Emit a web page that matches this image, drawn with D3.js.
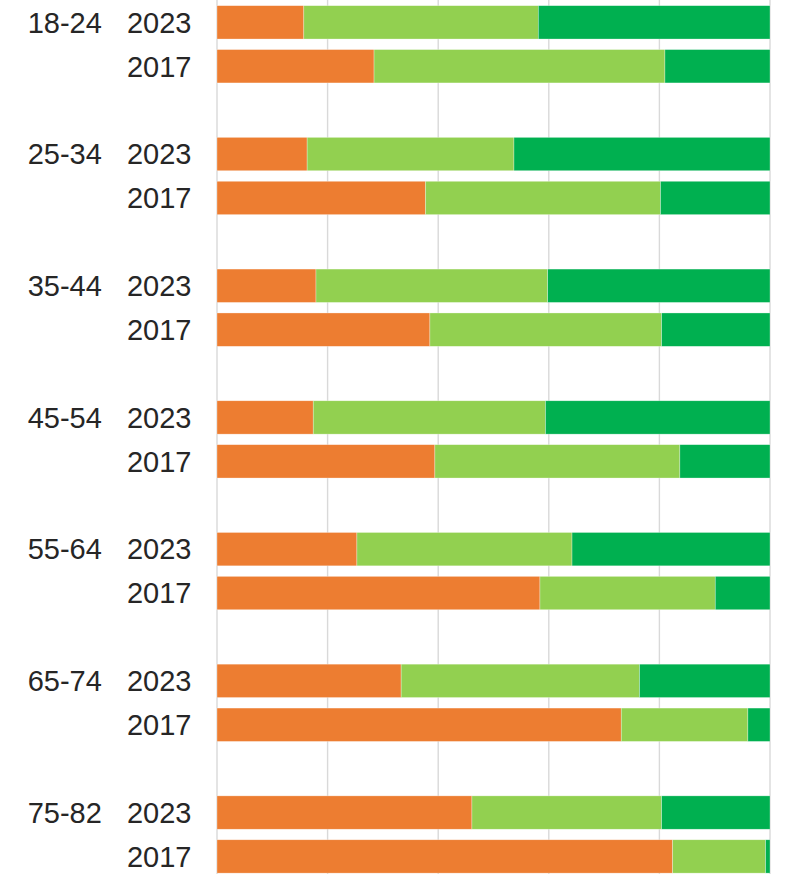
<!DOCTYPE html>
<html>
<head>
<meta charset="utf-8">
<script src="https://cdn.jsdelivr.net/npm/d3@7"></script>
<style>
  html, body { margin: 0; padding: 0; background: #fff; overflow: hidden; }
  svg { display: block; }
</style>
</head>
<body>
<svg id="chart" width="797" height="874"></svg>
<script>
// Data (percent shares)
const ageGroups = ["18-24", "25-34", "35-44", "45-54", "55-64", "65-74", "75-82"];
const years = ["2023", "2017"];
const seriesNames = ["Low", "Medium", "High"];
const colors = ["#ED7D31", "#92D050", "#00B050"];

const low2023  = [15.7, 16.3, 17.9, 17.4, 25.3, 33.3, 46.1];
const mid2023  = [42.4, 37.4, 41.9, 42.0, 38.9, 43.1, 34.3];
const high2023 = [41.9, 46.3, 40.2, 40.6, 35.8, 23.6, 19.6];

const low2017  = [28.4, 37.7, 38.5, 39.4, 58.4, 73.1, 82.4];
const mid2017  = [52.6, 42.5, 41.9, 44.3, 31.7, 22.9, 16.8];
const high2017 = [19.0, 19.8, 19.6, 16.3,  9.9,  4.0,  0.8];

const xTicks = [0, 20, 40, 60, 80, 100];

// Build rows: each group -> 2023, 2017, blank
const rows = [];
ageGroups.forEach((g, i) => {
  rows.push({ key: g + "|2023", group: g, year: "2023", values: [low2023[i], mid2023[i], high2023[i]] });
  rows.push({ key: g + "|2017", group: g, year: "2017", values: [low2017[i], mid2017[i], high2017[i]] });
  rows.push({ key: g + "|blank", group: g, year: null, values: null });
});

const svg = d3.select("#chart");
const W = 797, H = 874;
const x = d3.scaleLinear().domain([0, 100]).range([217, 770]);
const y = d3.scaleBand()
  .domain(rows.map(r => r.key))
  .range([0.4, 0.4 + rows.length * 43.9])
  .paddingInner(0.24)
  .paddingOuter(0.12);

// Gridlines
svg.append("g").selectAll("line")
  .data(xTicks)
  .join("line")
  .attr("x1", d => x(d)).attr("x2", d => x(d))
  .attr("y1", 0).attr("y2", H)
  .attr("stroke", "#d9d9d9")
  .attr("stroke-width", 1.4);

// Stacked bars
const dataRows = rows.filter(r => r.values);
const stackData = dataRows.map(r => {
  let acc = 0;
  return r.values.map((v, k) => {
    const seg = { key: r.key, k, x0: acc, x1: acc + v };
    acc += v;
    return seg;
  });
}).flat();

svg.append("g").selectAll("rect")
  .data(stackData)
  .join("rect")
  .attr("x", d => x(d.x0))
  .attr("width", d => Math.max(0, x(d.x1) - x(d.x0)))
  .attr("y", d => y(d.key))
  .attr("height", y.bandwidth())
  .attr("fill", d => colors[d.k])
  .attr("stroke", "#ffffff")
  .attr("stroke-width", 0.6)
  .attr("stroke-opacity", 0.5);

// Labels
const font = "'Liberation Sans', Arial, sans-serif";
svg.append("g").selectAll("text.year")
  .data(dataRows)
  .join("text")
  .attr("class", "year")
  .attr("x", 191.5)
  .attr("y", d => y(d.key) + y.bandwidth() / 2)
  .attr("dy", "0.355em")
  .attr("text-anchor", "end")
  .attr("font-family", font)
  .attr("font-size", 29)
  .attr("fill", "#262626")
  .text(d => d.year);

svg.append("g").selectAll("text.grp")
  .data(dataRows.filter(r => r.year === "2023"))
  .join("text")
  .attr("class", "grp")
  .attr("x", 101.8)
  .attr("y", d => y(d.key) + y.bandwidth() / 2)
  .attr("dy", "0.355em")
  .attr("text-anchor", "end")
  .attr("font-family", font)
  .attr("font-size", 29)
  .attr("fill", "#262626")
  .text(d => d.group);
</script>
</body>
</html>
